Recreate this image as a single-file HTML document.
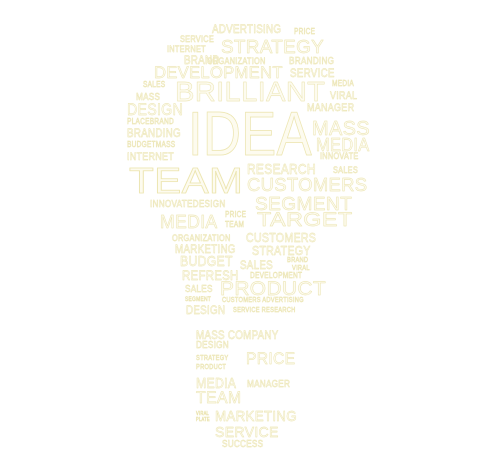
<!DOCTYPE html>
<html><head><meta charset="utf-8"><style>
html,body{margin:0;padding:0;background:#fff;}
#c{position:relative;width:499px;height:470px;overflow:hidden;background:#fff;font-family:"Liberation Sans",sans-serif;}
#c span{position:absolute;line-height:1;white-space:nowrap;color:#fdfbef;font-weight:normal;
 -webkit-text-stroke:0.4px #e9e2ac;text-shadow:0 0 1px #f1ecc6;transform:scaleX(0.82);transform-origin:0 0;letter-spacing:0.3px}
</style></head><body>
<div id="c"></div>
<script>
const words=[
["ADVERTISING",212,23,12],["PRICE",294,28,8],["SERVICE",180,35,9],["STRATEGY",221,38,18,103],["INTERNET",167,45,9],
["BRAND",184,54,12],["ORGANIZATION",207,57,9],["BRANDING",289,57,10],["DEVELOPMENT",154,64,17,129],["SERVICE",290,67,12],
["SALES",143,81,8],["BRILLIANT",175,78,28,150],["MEDIA",332,80,8],["MASS",136,93,10],["VIRAL",330,91,11],
["DESIGN",127,101,17,56],["MANAGER",307,103,11],["PLACEBRAND",127,118,8],["IDEA",188,104,62,124],["MASS",312,119,20,58],
["BRANDING",127,127,12],["BUDGETMASS",127,141,8],["MEDIA",316,136,18,54],["INTERNET",127,152,11],["INNOVATE",320,152,9],
["TEAM",129,163,36,114],["RESEARCH",247,162,15,69],["SALES",333,166,9],["CUSTOMERS",247,176,18,120],
["INNOVATEDESIGN",150,200,10],["SEGMENT",255,195,18,97],["PRICE",225,211,8],["MEDIA",160,213,18,58],["TEAM",225,221,8],["TARGET",257,211,19,95],
["ORGANIZATION",172,234,9],["CUSTOMERS",246,231,13],["MARKETING",175,243,12],["STRATEGY",252,244,13],
["BUDGET",180,254,15],["SALES",240,259,12],["BRAND",287,257,7],["VIRAL",292,265,7],["REFRESH",182,268,14],["DEVELOPMENT",250,272,8],
["SALES",185,285,10],["PRODUCT",220,280,19,106],["SEGMENT",185,297,6],["CUSTOMERS ADVERTISING",222,297,7],
["DESIGN",186,304,12],["SERVICE RESEARCH",233,307,7],
["MASS COMPANY",196,329,12],["DESIGN",196,341,10],["STRATEGY",196,355,7],["PRODUCT",196,364,7],["PRICE",246,350,17,49],
["MEDIA",196,376,15],["MANAGER",247,380,10],["TEAM",196,389,17,45],["VIRAL",196,412,5],["PLATE",196,418,5],
["MARKETING",215,409,15,82],["SERVICE",215,425,15,64],["SUCCESS",222,440,10]
];
const c=document.getElementById('c');
words.forEach(w=>{const s=document.createElement('span');


s.textContent=w[0];s.style.left=w[1]+'px';s.style.top=w[2]+'px';s.style.fontSize=w[3]+'px';
if(w[3]>=30){s.style.webkitTextStroke='0.8px #ece5b0';}
c.appendChild(s);
if(w[4]){const ow=s.offsetWidth;if(ow>0)s.style.transform='scaleX('+(w[4]/ow)+')';}
});
</script>
</body></html>
